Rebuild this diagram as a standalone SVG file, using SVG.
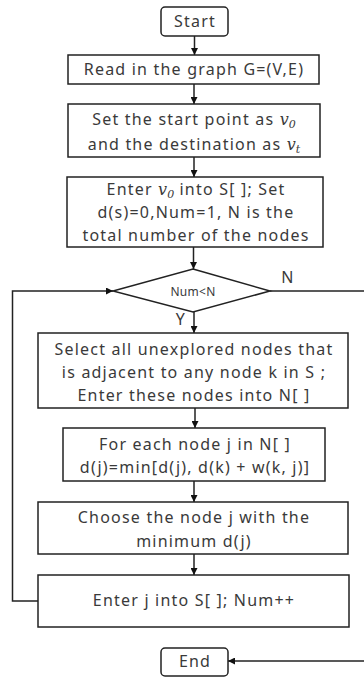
<svg xmlns="http://www.w3.org/2000/svg" width="364" height="677" viewBox="0 0 364 677">
  <style>
    .box { fill: #ffffff; stroke: #222222; stroke-width: 1.5; }
    .t { font-family: "Noto Sans", "Open Sans", sans-serif; font-size: 16px; letter-spacing: 1.2px; fill: #3a3a3a; text-anchor: middle; }
    .small { font-size: 12px; letter-spacing: 0.3px; }
    .m { font-family: "DejaVu Serif", "Liberation Serif", serif; font-style: italic; letter-spacing: 0; }
    .sub { font-size: 11px; }
    .link { fill: none; stroke: #222222; stroke-width: 1.5; }
  </style>
  <defs>
    <marker id="arrow" viewBox="0 0 10 10" refX="10" refY="5" markerWidth="7" markerHeight="7" markerUnits="userSpaceOnUse" orient="auto">
      <path d="M0,0 L10,5 L0,10 z" fill="#111111"/>
    </marker>
  </defs>

  <rect width="364" height="677" fill="#ffffff"/>

  <!-- connectors -->
  <g id="connectors">
    <line class="link" x1="194.5" y1="36" x2="194.5" y2="55" marker-end="url(#arrow)"/>
    <line class="link" x1="194" y1="84" x2="194" y2="104" marker-end="url(#arrow)"/>
    <line class="link" x1="194" y1="157" x2="194" y2="177" marker-end="url(#arrow)"/>
    <line class="link" x1="193.5" y1="247" x2="193.5" y2="269" marker-end="url(#arrow)"/>
    <line class="link" x1="194" y1="312" x2="194" y2="333" marker-end="url(#arrow)"/>
    <line class="link" x1="195" y1="408" x2="195" y2="428" marker-end="url(#arrow)"/>
    <line class="link" x1="194" y1="481" x2="194" y2="502" marker-end="url(#arrow)"/>
    <line class="link" x1="194" y1="554" x2="194" y2="575" marker-end="url(#arrow)"/>
    <!-- loop back from the last step to the test -->
    <polyline class="link" points="38,601 12.5,601 12.5,291 113,291" marker-end="url(#arrow)"/>
    <!-- exit when the test fails -->
    <line class="link" x1="270" y1="291" x2="364" y2="291"/>
    <line class="link" x1="364" y1="661" x2="228" y2="661" marker-end="url(#arrow)"/>
    <text class="t" x="288" y="283">N</text>
    <text class="t" x="181" y="325">Y</text>
  </g>

  <g id="start">
    <rect class="box" x="161" y="7" width="67" height="29" rx="4"/>
    <text class="t" x="195" y="27">Start</text>
  </g>

  <g id="read">
    <rect class="box" x="68" y="55" width="251" height="29"/>
    <text class="t" x="194" y="75">Read in the graph G=(V,E)</text>
  </g>

  <g id="set">
    <rect class="box" x="68" y="104" width="252" height="53"/>
    <text class="t" x="194" y="125">Set the start point as <tspan class="m">v</tspan><tspan class="m sub" dy="3">0</tspan></text>
    <text class="t" x="194" y="150">and the destination as <tspan class="m">v</tspan><tspan class="m sub" dy="3">t</tspan></text>
  </g>

  <g id="init">
    <rect class="box" x="67" y="177" width="256" height="70"/>
    <text class="t" x="196" y="195">Enter <tspan class="m">v</tspan><tspan class="m sub" dy="3">0</tspan><tspan dy="-3"> into S[ ]; Set</tspan></text>
    <text class="t" x="196" y="218">d(s)=0,Num=1,  N is the</text>
    <text class="t" x="196" y="241">total number of the nodes</text>
  </g>

  <g id="test">
    <polygon class="box" points="193,269 270,291 193,312 113,291"/>
    <text class="t small" x="193" y="296">Num&lt;N</text>
  </g>

  <g id="select">
    <rect class="box" x="38" y="333" width="310" height="75"/>
    <text class="t" x="194" y="355">Select all unexplored nodes that</text>
    <text class="t" x="194" y="378">is adjacent to any node k in S ;</text>
    <text class="t" x="194" y="401">Enter these nodes into N[ ]</text>
  </g>

  <g id="relax">
    <rect class="box" x="63" y="428" width="262" height="53"/>
    <text class="t" x="195" y="450">For each node j in N[ ]</text>
    <text class="t" x="195" y="473">d(j)=min[d(j),  d(k) + w(k, j)]</text>
  </g>

  <g id="choose">
    <rect class="box" x="38" y="502" width="310" height="52"/>
    <text class="t" x="194" y="523">Choose the node j with the</text>
    <text class="t" x="194" y="547">minimum  d(j)</text>
  </g>

  <g id="add">
    <rect class="box" x="38" y="575" width="311" height="52"/>
    <text class="t" x="194" y="606">Enter j into S[ ]; Num++</text>
  </g>

  <g id="end">
    <rect class="box" x="161" y="648" width="67" height="28" rx="4"/>
    <text class="t" x="195" y="667">End</text>
  </g>
</svg>
